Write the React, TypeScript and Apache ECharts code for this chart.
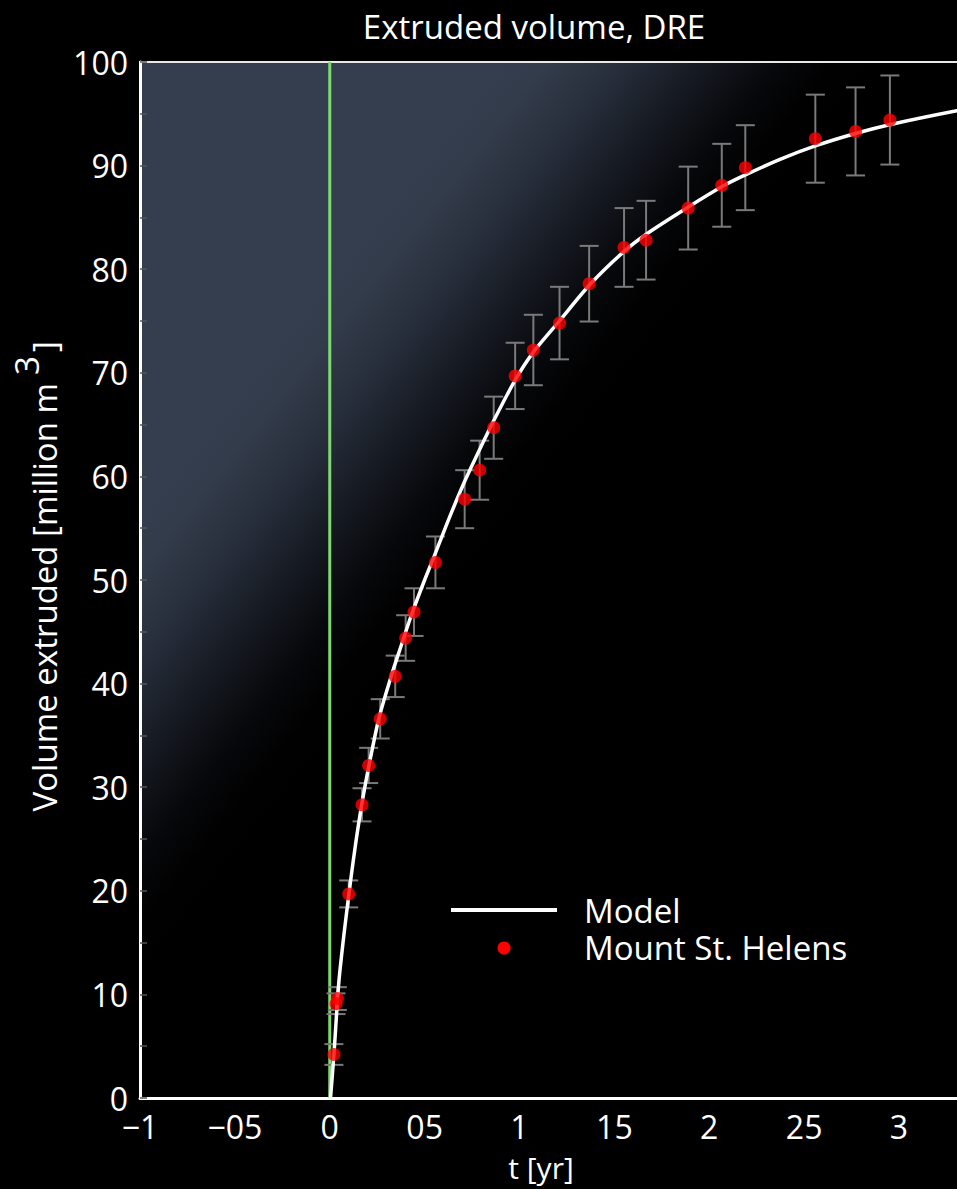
import React, { useEffect, useRef } from "react";
import * as echarts from "echarts";

// Observed extruded volume at Mount St. Helens (t in years, volume in million m^3)
const obsT = [0.022, 0.033, 0.040, 0.100, 0.170, 0.205, 0.266, 0.345, 0.400, 0.444, 0.557, 0.711, 0.790, 0.864, 0.977, 1.073, 1.211, 1.367, 1.551, 1.667, 1.889, 2.066, 2.190, 2.559, 2.771, 2.952];
const obsV = [4.2, 9.1, 9.6, 19.7, 28.3, 32.1, 36.6, 40.7, 44.4, 46.9, 51.7, 57.8, 60.6, 64.7, 69.7, 72.2, 74.8, 78.6, 82.1, 82.8, 85.9, 88.1, 89.8, 92.6, 93.3, 94.4];
const obsErr = [1.0, 1.0, 1.1, 1.3, 1.6, 1.7, 1.9, 2.0, 2.2, 2.3, 2.5, 2.8, 2.85, 3.0, 3.2, 3.4, 3.5, 3.65, 3.8, 3.8, 4.0, 4.0, 4.1, 4.25, 4.25, 4.3];

// Model curve samples
const modelT = [0.004, 0.022, 0.047, 0.075, 0.11, 0.14, 0.173, 0.21, 0.261, 0.332, 0.37, 0.43, 0.5, 0.555, 0.63, 0.713, 0.79, 0.862, 0.977, 1.073, 1.21, 1.37, 1.55, 1.67, 1.89, 2.07, 2.19, 2.373, 2.559, 2.77, 2.95, 3.305, 3.5];
const modelV = [0.0, 4.2, 11.0, 15.8, 21.0, 25.0, 28.8, 32.4, 36.8, 41.2, 43.3, 46.6, 50.0, 52.5, 56.0, 59.6, 62.6, 65.3, 69.3, 72.0, 75.0, 78.5, 81.7, 83.4, 86.0, 88.0, 89.1, 90.6, 91.9, 93.1, 93.95, 95.3, 95.9];

// Onset marker at t = 0
const onsetT = [0, 0];
const onsetV = [0, 100];

// Tick labels along t
const xTickValues = [-1, -0.5, 0, 0.5, 1, 1.5, 2, 2.5, 3];
const xTickLabels = ["\u22121", "\u221205", "0", "05", "1", "15", "2", "25", "3"];

const FONT = '"Open Sans", "Noto Sans", sans-serif';
const W = 957;
const H = 1189;
// The plotting canvas is wider than the page; the right part of the frame is clipped off.
const CW = 1000;
const PLOT_LEFT = 140;
const PX_PER_YR = 189.75;
const X_MIN = -1;
const X_MAX = 3.5;

export default function App() {
  const ref = useRef<HTMLDivElement>(null);

  useEffect(() => {
    if (!ref.current) return;
    const chart = echarts.init(ref.current, null, { renderer: "svg" });

    const errData = obsT.map((t, i) => [t, obsV[i], obsErr[i]]);
    const obsData = obsT.map((t, i) => [t, obsV[i]]);
    const modelData = modelT.map((t, i) => [t, modelV[i]]);
    const onsetData = onsetT.map((t, i) => [t, onsetV[i]]);

    const plotRight = PLOT_LEFT + (X_MAX - X_MIN) * PX_PER_YR;
    const labelFont = `33px ${FONT}`;

    const option: any = {
      animation: false,
      backgroundColor: "#000",
      grid: {
        left: PLOT_LEFT,
        top: 62,
        right: CW - plotRight,
        bottom: H - 1098,
        show: true,
        borderColor: "#e8e8e8",
        borderWidth: 2,
        backgroundColor: {
          type: "linear",
          x: 328,
          y: 263,
          x2: 562,
          y2: 451,
          global: true,
          colorStops: [
            { offset: 0, color: "#353e4e" },
            { offset: 0.15, color: "#333c4b" },
            { offset: 0.35, color: "#272e3b" },
            { offset: 0.55, color: "#161a22" },
            { offset: 0.75, color: "#07080b" },
            { offset: 0.9, color: "#010101" },
            { offset: 1, color: "#000000" },
          ],
        },
      },
      xAxis: {
        type: "value",
        min: X_MIN,
        max: X_MAX,
        interval: 0.5,
        axisLine: { show: true, onZero: false, lineStyle: { color: "#fff", width: 3 } },
        axisTick: { show: false },
        splitLine: { show: false },
        axisLabel: {
          color: "#fff",
          fontFamily: FONT,
          fontSize: 32,
          lineHeight: 28,
          margin: 14,
          formatter: (v: number) => {
            const i = xTickValues.findIndex((x) => Math.abs(x - v) < 1e-6);
            return i >= 0 ? xTickLabels[i] : "";
          },
        },
      },
      yAxis: {
        type: "value",
        min: 0,
        max: 100,
        interval: 10,
        axisLine: { show: true, onZero: false, lineStyle: { color: "#fff", width: 3 } },
        axisTick: { show: true, inside: true, length: 7, lineStyle: { color: "#555", width: 1.5 } },
        minorTick: { show: true, splitNumber: 2, length: 7, lineStyle: { color: "#555", width: 1.5 } },
        splitLine: { show: false },
        axisLabel: { color: "#fff", fontFamily: FONT, fontSize: 32, lineHeight: 24, margin: 12 },
      },
      series: [
        {
          type: "line",
          data: onsetData,
          showSymbol: false,
          lineStyle: { color: "#80d873", width: 3 },
          z: 2,
          silent: true,
        },
        {
          type: "custom",
          data: errData,
          encode: { x: 0, y: 1 },
          z: 3,
          renderItem: (params: any, api: any) => {
            const t = api.value(0);
            const v = api.value(1);
            const e = api.value(2);
            const top = api.coord([t, v + e]);
            const bot = api.coord([t, v - e]);
            const hw = 9.5;
            const style = { stroke: "#7a7a7a", lineWidth: 2 };
            return {
              type: "group",
              children: [
                { type: "line", shape: { x1: top[0], y1: top[1], x2: bot[0], y2: bot[1] }, style },
                { type: "line", shape: { x1: top[0] - hw, y1: top[1], x2: top[0] + hw, y2: top[1] }, style },
                { type: "line", shape: { x1: bot[0] - hw, y1: bot[1], x2: bot[0] + hw, y2: bot[1] }, style },
              ],
            };
          },
        },
        {
          name: "Model",
          type: "line",
          data: modelData,
          showSymbol: false,
          smooth: 0.25,
          lineStyle: { color: "#ffffff", width: 3.5 },
          z: 4,
        },
        {
          name: "Mount St. Helens",
          type: "scatter",
          data: obsData,
          symbol: "circle",
          symbolSize: 13,
          itemStyle: { color: "#ff0000" },
          z: 5,
        },
      ],
      graphic: [
        {
          type: "text",
          x: 534,
          y: 26,
          style: {
            text: "Extruded volume, DRE",
            fill: "#fff",
            font: `33px ${FONT}`,
            textAlign: "center",
            textVerticalAlign: "middle",
          },
        },
        {
          type: "text",
          x: 541,
          y: 1167,
          style: {
            text: "t [yr]",
            fill: "#fff",
            font: `30px ${FONT}`,
            textAlign: "center",
            textVerticalAlign: "middle",
          },
        },
        // Vertical axis title, reading bottom to top, with a raised exponent
        {
          type: "group",
          x: 44,
          y: 383,
          rotation: Math.PI / 2,
          children: [
            {
              type: "text",
              x: 0,
              y: 0,
              style: {
                text: "Volume extruded [million m",
                fill: "#fff",
                font: labelFont,
                textAlign: "right",
                textVerticalAlign: "middle",
              },
            },
            {
              type: "text",
              x: 8,
              y: -18,
              style: {
                text: "3",
                fill: "#fff",
                font: labelFont,
                textAlign: "left",
                textVerticalAlign: "middle",
              },
            },
            {
              type: "text",
              x: 31,
              y: 0,
              style: {
                text: "]",
                fill: "#fff",
                font: labelFont,
                textAlign: "left",
                textVerticalAlign: "middle",
              },
            },
          ],
        },
        {
          type: "line",
          shape: { x1: 451, y1: 910, x2: 557, y2: 910 },
          style: { stroke: "#fff", lineWidth: 4 },
        },
        {
          type: "circle",
          shape: { cx: 504, cy: 948, r: 6.5 },
          style: { fill: "#ff0000" },
        },
        {
          type: "text",
          x: 584,
          y: 910,
          style: {
            text: "Model",
            fill: "#fff",
            font: `33px ${FONT}`,
            lineHeight: 30,
            textAlign: "left",
            textVerticalAlign: "middle",
          },
        },
        {
          type: "text",
          x: 584,
          y: 947,
          style: {
            text: "Mount St. Helens",
            fill: "#fff",
            font: `33px ${FONT}`,
            lineHeight: 30,
            textAlign: "left",
            textVerticalAlign: "middle",
          },
        },
      ],
    };

    chart.setOption(option);
    return () => chart.dispose();
  }, []);

  return (
    <div style={{ position: "fixed", left: 0, top: 0, width: W, height: H, overflow: "hidden", background: "#000" }}>
      <div ref={ref} style={{ position: "absolute", left: 0, top: 0, width: CW, height: H }} />
    </div>
  );
}
